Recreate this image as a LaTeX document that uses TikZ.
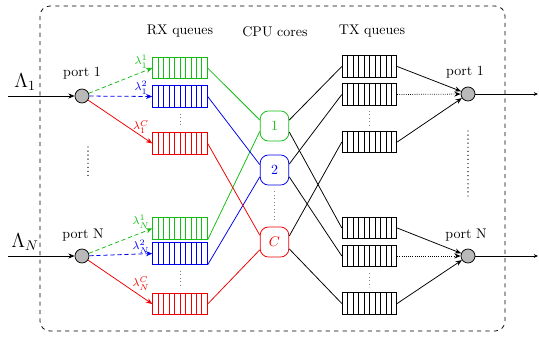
\documentclass[tikz,border=0pt]{standalone}
\usetikzlibrary{arrows.meta,calc}
\definecolor{qgreen}{RGB}{20,190,20}
\definecolor{qblue}{RGB}{0,0,240}
\definecolor{qred}{RGB}{240,0,0}
\begin{document}
\begin{tikzpicture}[x=0.714pt,y=-0.714pt,
  line width=0.55pt,
  >={Stealth[length=4.5pt,width=3.6pt]},
  queue/.style={draw=#1, minimum width=39pt, minimum height=15.5pt, inner sep=0pt,
    path picture={\foreach \k in {1,...,9}{
      \draw[#1, line width=0.55pt] ($(path picture bounding box.south west)!\k/10!(path picture bounding box.south east)$)
        -- ($(path picture bounding box.north west)!\k/10!(path picture bounding box.north east)$);}}},
  core/.style={draw=#1, text=#1, rounded corners=6pt, minimum width=20.5pt,
    minimum height=21.5pt, inner sep=0pt},
  port/.style={circle, draw, fill=gray!55, minimum size=10pt, inner sep=0pt},
  lam/.style={font=\footnotesize, inner sep=0pt},
  qdots/.style={dotted, gray, line width=0.5pt},
  pdots/.style={line width=1pt, line cap=round, dash pattern=on 0pt off 2.9pt},
  flow/.style={->, densely dashed}]
\useasboundingbox (0,0) rectangle (539,337);

% frame
\draw[dashed, rounded corners=7pt] (40,6) rectangle (505,331);

% column titles
\node (hrx) at (180,31) {RX queues};
\node (hcpu) at (275,32) {CPU cores};
\node (htx) at (372,31) {TX queues};

% input ports
\node[port] (in1) at (82,96) {};
\node[port] (inN) at (82,256) {};
\node (lin1) at (82,73) {port 1};
\node (linN) at (83,235) {port N};
\coordinate (src1) at (8,96);
\coordinate (srcN) at (8,256);
\node (L1) at (25,82) {\Large $\Lambda_1$};
\node (LN) at (25,242) {\Large $\Lambda_N$};
\draw[->] (src1) -- (in1);
\draw[->] (srcN) -- (inN);
\coordinate (ld1) at (88,147);
\coordinate (ld2) at (88,178);
\draw[pdots] (ld1) -- (ld2);

% RX queues
\node[queue=qgreen] (rg1) at (180,68) {};
\node[queue=qblue]  (rb1) at (180,96.5) {};
\node[queue=qred]   (rr1) at (180,143.5) {};
\node[queue=qgreen] (rgN) at (180,228.5) {};
\node[queue=qblue]  (rbN) at (180,253.5) {};
\node[queue=qred]   (rrN) at (180,304) {};
\draw[qdots] (rb1.south) ++(0,6) coordinate (rd1) -- ($(rr1.north)+(0,-5)$) coordinate (rd2);
\draw[qdots] (rbN.south) ++(0,6) coordinate (rd3) -- ($(rrN.north)+(0,-5)$) coordinate (rd4);

% CPU cores
\node[core=qgreen] (c1) at (274.5,126) {1};
\node[core=qblue]  (c2) at (274.5,170) {2};
\node[core=qred]   (cC) at (274.5,242) {$C$};
\draw[qdots] ($(c2.south)+(0,6)$) coordinate (cd1) -- ($(cC.north)+(0,-5)$) coordinate (cd2);

% TX queues
\node[queue=black] (t1) at (369.5,66.5) {};
\node[queue=black] (t2) at (369.5,94.5) {};
\node[queue=black] (t3) at (369.5,142) {};
\node[queue=black] (t4) at (369.5,228) {};
\node[queue=black] (t5) at (369.5,256) {};
\node[queue=black] (t6) at (369.5,303.5) {};
\draw[qdots] ($(t2.south)+(0,5)$) coordinate (td1) -- ($(t3.north)+(0,-5)$) coordinate (td2);
\draw[qdots] ($(t5.south)+(0,6)$) coordinate (td3) -- ($(t6.north)+(0,-5)$) coordinate (td4);

% output ports
\node[port] (out1) at (468,94) {};
\node[port] (outN) at (468,256) {};
\node (lout1) at (465,72) {port 1};
\node (loutN) at (466,235) {port N};
\coordinate (dst1) at (538,94);
\coordinate (dstN) at (538,256);
\draw[-{Stealth[length=3pt,width=2.6pt]}] (out1) -- (dst1);
\draw[-{Stealth[length=3pt,width=2.6pt]}] (outN) -- (dstN);
\coordinate (rd5) at (468,131);
\coordinate (rd6) at (468,196);
\draw[pdots] (rd5) -- (rd6);

% dispatching to RX queues
\draw[flow, qgreen] (in1) -- (rg1.west);
\draw[flow, qblue]  (in1) -- (rb1.west);
\draw[->, qred]     (in1) -- (rr1.west);
\draw[flow, qgreen] (inN) -- (rgN.west);
\draw[flow, qblue]  (inN) -- (rbN.west);
\draw[->, qred]     (inN) -- (rrN.west);
\node[lam, text=qgreen] (l11) at (141,62) {$\lambda_1^1$};
\node[lam, text=qblue]  (l12) at (141,88) {$\lambda_1^2$};
\node[lam, text=qred]   (l1C) at (141,127) {$\lambda_1^C$};
\node[lam, text=qgreen] (lN1) at (141,222) {$\lambda_N^1$};
\node[lam, text=qblue]  (lN2) at (141,247) {$\lambda_N^2$};
\node[lam, text=qred]   (lNC) at (141,284) {$\lambda_N^C$};

% RX queues to cores
\draw[qgreen] (rg1.east) -- (c1.158);
\draw[qgreen] (rgN.south east) -- (c1.200);
\draw[qblue]  (rb1.east) -- (c2.160);
\draw[qblue]  (rbN.south east) -- (c2.205);
\draw[qred]   (rr1.east) -- (cC.155);
\draw[qred]   (rrN.east) -- (cC.208);

% cores to TX queues
\draw (c1.22) -- (t1.west);
\draw (c1.338) -- (t4.west);
\draw (c2.22) -- (t2.west);
\draw (c2.335) -- (t5.west);
\draw (cC.22) -- (t3.west);
\draw (cC.335) -- (t6.west);

% TX queues to output ports
\draw[->] (t1.east) -- (out1);
\draw[->, densely dotted] (t2.east) -- (out1);
\draw[->] (t3.east) -- (out1);
\draw[->] (t4.east) -- (outN);
\draw[->, densely dotted] (t5.east) -- (outN);
\draw[->] (t6.east) -- (outN);
\end{tikzpicture}
\end{document}
